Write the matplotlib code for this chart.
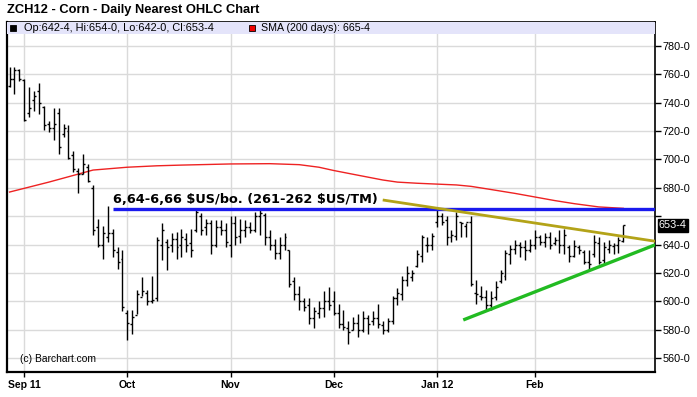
import numpy as np
import matplotlib
matplotlib.use("Agg")
import matplotlib.pyplot as plt
from matplotlib.patches import Rectangle
import matplotlib.transforms as mtransforms

plt.rcParams['font.family'] = ['Liberation Sans', 'DejaVu Sans']

################### daily OHLC bars, 29 Aug 2011 .. 28 Feb 2012 (US cents/bu) ###################
opens = [752, 757, 763, 756, 733, 742, 748, 737, 725, 722, 733, 718, 720, 703, 692, 690, 695, 680,
         652, 640, 645, 648, 635, 630, 592, 584, 590, 603, 606, 600, 602, 640, 642, 640, 644, 640,
         644, 641, 650, 660, 652, 655, 640, 652, 650, 640, 655, 646, 650, 652, 650, 660, 661, 645,
         640, 634, 640, 636, 614, 605, 600, 597, 588, 592, 595, 600, 600, 592, 584, 581, 580, 585,
         580, 588, 586, 588, 583, 580, 586, 602, 605, 615, 617, 625, 632, 640, 640, 656, 660, 657,
         645, 646, 656, 653, 656, 606, 604, 603, 597, 603, 614, 618, 633, 637, 640, 638, 636, 640,
         645, 642, 645, 641, 643, 640, 638, 632, 638, 635, 628, 633, 641, 629, 637, 639, 640, 642.5]
highs = [765, 765, 764, 757, 751, 748, 754, 738, 727, 736, 736, 725, 724, 706, 694, 704, 697, 682,
         658, 653, 667, 651, 638, 636, 594, 594, 608, 617, 608, 618, 645, 655, 644, 648, 649, 651,
         648, 651, 665, 662, 658, 657, 657, 657, 655, 660, 660, 658, 657, 656, 663, 665, 662, 650,
         644, 645, 648, 636, 617, 611, 602, 602, 596, 600, 607, 610, 607, 598, 594, 586, 589, 591,
         593, 590, 593, 598, 586, 588, 604, 609, 618, 625, 622, 636, 647, 645, 648, 664, 662, 660,
         650, 663, 656, 655, 660, 615, 611, 608, 607, 614, 622, 636, 640, 643, 642, 643, 644, 650,
         647, 648, 649, 645, 650, 651, 640, 643, 640, 636, 636, 647, 645, 642, 643, 641, 645, 654]
lows = [751, 746, 755, 727, 730, 734, 732, 721, 719, 714, 704, 716, 700, 691, 676, 690, 684, 647,
        638, 630, 642, 631, 623, 593, 573, 577, 591, 604, 597, 599, 600, 629, 622, 635, 630, 631,
        635, 631, 649, 647, 647, 633, 638, 647, 638, 631, 640, 641, 645, 648, 649, 647, 640, 636,
        630, 630, 636, 610, 601, 594, 593, 584, 581, 588, 589, 594, 590, 581, 580, 570, 580, 575,
        578, 577, 583, 581, 577, 578, 584, 597, 601, 611, 614, 624, 628, 635, 636, 652, 654, 640,
        642, 643, 645, 645, 611, 598, 601, 594, 594, 601, 613, 615, 626, 633, 631, 629, 635, 637,
        640, 638, 637, 640, 634, 633, 628, 631, 633, 626, 622, 631, 626, 627, 634, 633, 634, 642]
closes = [757, 763, 757, 728, 736, 745, 740, 724, 722, 725, 709, 722, 701, 693, 690, 697, 685, 650,
          640, 648, 648, 636, 628, 596, 585, 589, 605, 607, 600, 601, 643, 650, 638, 644, 638, 645,
          640, 636, 663, 650, 655, 640, 652, 650, 642, 655, 645, 650, 652, 650, 660, 662, 645, 640,
          634, 640, 645, 612, 605, 600, 596, 588, 593, 595, 600, 597, 592, 584, 582, 578, 585, 580,
          588, 584, 588, 584, 580, 586, 602, 606, 615, 620, 620, 633, 645, 640, 646, 660, 656, 645,
          647, 660, 655, 656, 612, 605, 603, 597, 602, 610, 620, 634, 637, 640, 638, 636, 640, 645,
          642, 645, 640, 643, 640, 647, 632, 639, 636, 628, 626, 642, 628, 638, 640, 640, 643, 653.5]

# 200 day SMA read at a few bars
sma_idx = [0, 8, 17, 24, 30, 35, 45, 53, 59, 63, 66, 70, 73, 76, 79, 83, 87, 91, 94, 98, 103,
           107, 111, 115, 120, 125]
sma_val = [677, 684, 692.5, 694.5, 695.5, 696, 696.8, 697, 696.3, 694.5, 692.2, 689.5, 687.5,
           685.5, 684, 683.2, 682.6, 682, 681, 678.8, 676, 673.5, 671, 668.8, 666.5, 665.5]

month_idx = [3, 24, 45, 66, 87, 107]
month_labels = ['Sep 11', 'Oct', 'Nov', 'Dec', 'Jan 12', 'Feb']
yticks = list(range(560, 781, 20))

# drawn lines (bar index, price)
blue_level = 665
blue_start = 21.0
olive_x = [76.0, 131.5]
olive_y = [671.4, 642.3]
green_x = [92.4, 131.5]
green_y = [586.8, 639.8]

last_price = '653-4'
legend_ohlc = 'Op:642-4, Hi:654-0, Lo:642-0, Cl:653-4'
legend_sma = 'SMA (200 days): 665-4'
note = r'6,64-6,66 \$US/bo. (261-262 \$US/TM)'

############################### figure ###############################
fig = plt.figure(figsize=(6.97, 3.97), dpi=100)
ax = fig.add_axes([7/697, 25/397, 648/697, 350/397])
x = np.arange(len(opens))
xmax = 131.45
ax.set_xlim(-0.52, xmax)
ax.set_ylim(550.1, 796.9)

# grid
for yv in yticks:
    ax.axhline(yv, color='#dadada', lw=1, zorder=0)
for mi in month_idx:
    ax.axvline(mi, color='#dadada', lw=1, zorder=0)

# OHLC bars
ax.vlines(x, lows, highs, color='black', lw=1, zorder=3)
ax.hlines(opens, x - 0.4, x, color='black', lw=1, zorder=3)
ax.hlines(closes, x, x + 0.4, color='black', lw=1, zorder=3)

# SMA
ax.plot(sma_idx, sma_val, color='#ee2222', lw=1, zorder=2)

# drawn lines
ax.plot([blue_start, xmax], [blue_level, blue_level], color='#1a1aee', lw=2.4, zorder=4,
        solid_capstyle='butt')
ax.plot(olive_x, olive_y, color='#b3a318', lw=2, zorder=4, solid_capstyle='butt')
ax.plot(green_x, green_y, color='#22bb22', lw=2.4, zorder=4, solid_capstyle='butt')
ax.text(blue_start, blue_level + 2.2, note, fontsize=9.3, fontweight='bold',
        family=['DejaVu Sans'], va='bottom', ha='left', zorder=5)

# axes look
for s in ax.spines.values():
    s.set_color('black')
    s.set_linewidth(1.2)
ax.spines['left'].set_linewidth(1.6)
ax.spines['bottom'].set_linewidth(1.6)
ax.yaxis.tick_right()
ax.set_yticks(yticks)
ax.set_yticklabels(['' if v == 660 else f'{v}-0' for v in yticks], fontsize=7.8)
ax.tick_params(axis='y', length=4, width=1, pad=1.5)
ax.set_xticks(month_idx)
ax.set_xticklabels(month_labels, fontsize=7.5, fontweight='bold')
ax.tick_params(axis='x', length=3.5, width=1, pad=2)

# last price tag
trans = mtransforms.blended_transform_factory(ax.transAxes, ax.transData)
ax.text(1.006, 653.5, last_price, transform=trans, color='white', fontsize=7.8, va='center',
        ha='left', bbox=dict(boxstyle='square,pad=0.12', fc='black', ec='black'), clip_on=False)

# legend band
band_h = 12 / 350
ax.add_patch(Rectangle((0, 1 - band_h), 1, band_h, transform=ax.transAxes, fc='#e4e4fa',
                       ec='none', zorder=6))
ax.add_patch(Rectangle((3/648, 1 - band_h + 3/350), 6/648, 6/350, transform=ax.transAxes,
                       fc='black', ec='black', lw=0.6, zorder=7))
ax.text(17/648, 1 - band_h / 2, legend_ohlc, transform=ax.transAxes, fontsize=7.9,
        va='center', ha='left', zorder=7)
ax.add_patch(Rectangle((242/648, 1 - band_h + 3/350), 6/648, 6/350, transform=ax.transAxes,
                       fc='#ee0000', ec='black', lw=0.6, zorder=7))
ax.text(254/648, 1 - band_h / 2, legend_sma, transform=ax.transAxes, fontsize=7.7,
        va='center', ha='left', zorder=7)

ax.text(13/648, 559, '(c) Barchart.com', transform=trans, fontsize=7.4, va='center',
        ha='left', zorder=5)

fig.text(7/697, 1 - 10/397, 'ZCH12 - Corn - Daily Nearest OHLC Chart', fontsize=9.3,
         fontweight='bold', va='center', ha='left')

fig.savefig('out.png', dpi=100)
